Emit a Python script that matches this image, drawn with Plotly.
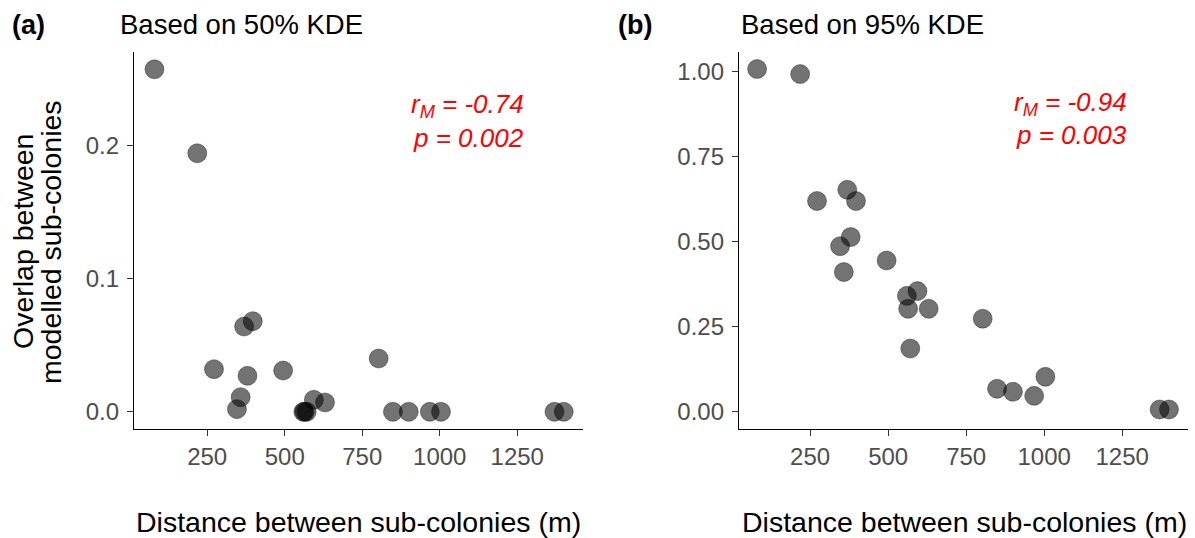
import plotly.graph_objects as go

# Distance between each pair of sub-colonies (m)
distance_m = [80, 218, 272, 346, 358, 369, 380, 397, 495, 560, 564, 571,
              594, 630, 803, 849, 900, 968, 1004, 1370, 1400]

# Overlap between modelled sub-colonies, 50% KDE
overlap_50 = [0.257, 0.194, 0.032, 0.002, 0.011, 0.064, 0.027, 0.068, 0.031,
              0.000, 0.000, 0.000, 0.009, 0.007, 0.040, 0.000, 0.000, 0.000,
              0.000, 0.000, 0.000]

# Overlap between modelled sub-colonies, 95% KDE
overlap_95 = [1.008, 0.993, 0.620, 0.487, 0.411, 0.653, 0.514, 0.620, 0.445,
              0.341, 0.303, 0.186, 0.355, 0.303, 0.274, 0.068, 0.059, 0.047,
              0.103, 0.007, 0.007]

panel_labels = ["(a)", "(b)"]
panel_titles = ["Based on 50% KDE", "Based on 95% KDE"]
r_mantel = ["-0.74", "-0.94"]
p_values = ["0.002", "0.003"]

x_ticks = [250, 500, 750, 1000, 1250]
y_ticks_a = [0.0, 0.1, 0.2]
y_ticks_b = [0.0, 0.25, 0.5, 0.75, 1.0]

W, H = 1195, 538
FONT = "Liberation Sans, Arial, sans-serif"
TICK_GREY = "#4D4D4D"

marker = dict(size=19, color="rgba(0,0,0,0.55)",
              line=dict(color="rgba(0,0,0,0.35)", width=1))

fig = go.Figure()
fig.add_trace(go.Scatter(x=distance_m, y=overlap_50, mode="markers",
                         marker=marker, xaxis="x", yaxis="y", showlegend=False))
fig.add_trace(go.Scatter(x=distance_m, y=overlap_95, mode="markers",
                         marker=marker, xaxis="x2", yaxis="y2", showlegend=False))


def px_x(p):
    return p / W


def px_y(p):
    return 1 - p / H


ydom = [px_y(429), px_y(52)]
axis_common = dict(showline=True, linecolor="black", linewidth=1.3,
                   ticks="outside", ticklen=6, tickcolor="#333333", tickwidth=1.2,
                   showgrid=False, zeroline=False,
                   tickfont=dict(family=FONT, size=24, color=TICK_GREY))

fig.update_layout(
    width=W, height=H,
    margin=dict(l=0, r=0, t=0, b=0),
    paper_bgcolor="white", plot_bgcolor="white",
    xaxis=dict(domain=[px_x(134), px_x(583)], range=[14, 1462], anchor="y",
               tickvals=x_ticks, **axis_common),
    yaxis=dict(domain=ydom, range=[-0.0129, 0.270], anchor="x",
               tickvals=y_ticks_a, tickformat=".1f", ticklabelstandoff=3,
               **axis_common),
    xaxis2=dict(domain=[px_x(739), px_x(1188)], range=[22, 1461], anchor="y2",
                tickvals=x_ticks, **axis_common),
    yaxis2=dict(domain=ydom, range=[-0.0504, 1.058], anchor="x2",
                tickvals=y_ticks_b, tickformat=".2f", ticklabelstandoff=3,
                **axis_common),
)

ann = []
# Panel letters and titles
for lx, tx, label, title in [(10, 118, panel_labels[0], panel_titles[0]),
                             (616, 739, panel_labels[1], panel_titles[1])]:
    ann.append(dict(x=px_x(lx), y=px_y(25), xref="paper", yref="paper",
                    xanchor="left", yanchor="middle", showarrow=False,
                    text="<b>" + label + "</b>",
                    font=dict(family=FONT, size=27, color="black")))
    ann.append(dict(x=px_x(tx), y=px_y(25), xref="paper", yref="paper",
                    xanchor="left", yanchor="middle", showarrow=False,
                    text=title, font=dict(family=FONT, size=27.5, color="black")))

# Mantel test results
for rx, y1, y2, r, p in [(526, 105, 138, r_mantel[0], p_values[0]),
                         (1129, 104, 135, r_mantel[1], p_values[1])]:
    ann.append(dict(x=px_x(rx), y=px_y(y1), xref="paper", yref="paper",
                    xanchor="right", yanchor="middle", showarrow=False,
                    text="<i>r<sub>M</sub> = " + r + "</i>",
                    font=dict(family=FONT, size=26, color="#FF0000")))
    ann.append(dict(x=px_x(rx), y=px_y(y2), xref="paper", yref="paper",
                    xanchor="right", yanchor="middle", showarrow=False,
                    text="<i>p = " + p + "</i>",
                    font=dict(family=FONT, size=26, color="#FF0000")))

# Axis titles
for cx in [358, 964]:
    ann.append(dict(x=px_x(cx), y=px_y(522), xref="paper", yref="paper",
                    xanchor="center", yanchor="middle", showarrow=False,
                    text="Distance between sub-colonies (m)",
                    font=dict(family=FONT, size=28.5, color="black")))
for cx, line in [(23, "Overlap between"), (51, "modelled sub-colonies")]:
    ann.append(dict(x=px_x(cx), y=px_y(242), xref="paper", yref="paper",
                    xanchor="center", yanchor="middle", showarrow=False,
                    textangle=-90, text=line,
                    font=dict(family=FONT, size=28.5, color="black")))

fig.update_layout(annotations=ann)
fig.write_html("out.html")
